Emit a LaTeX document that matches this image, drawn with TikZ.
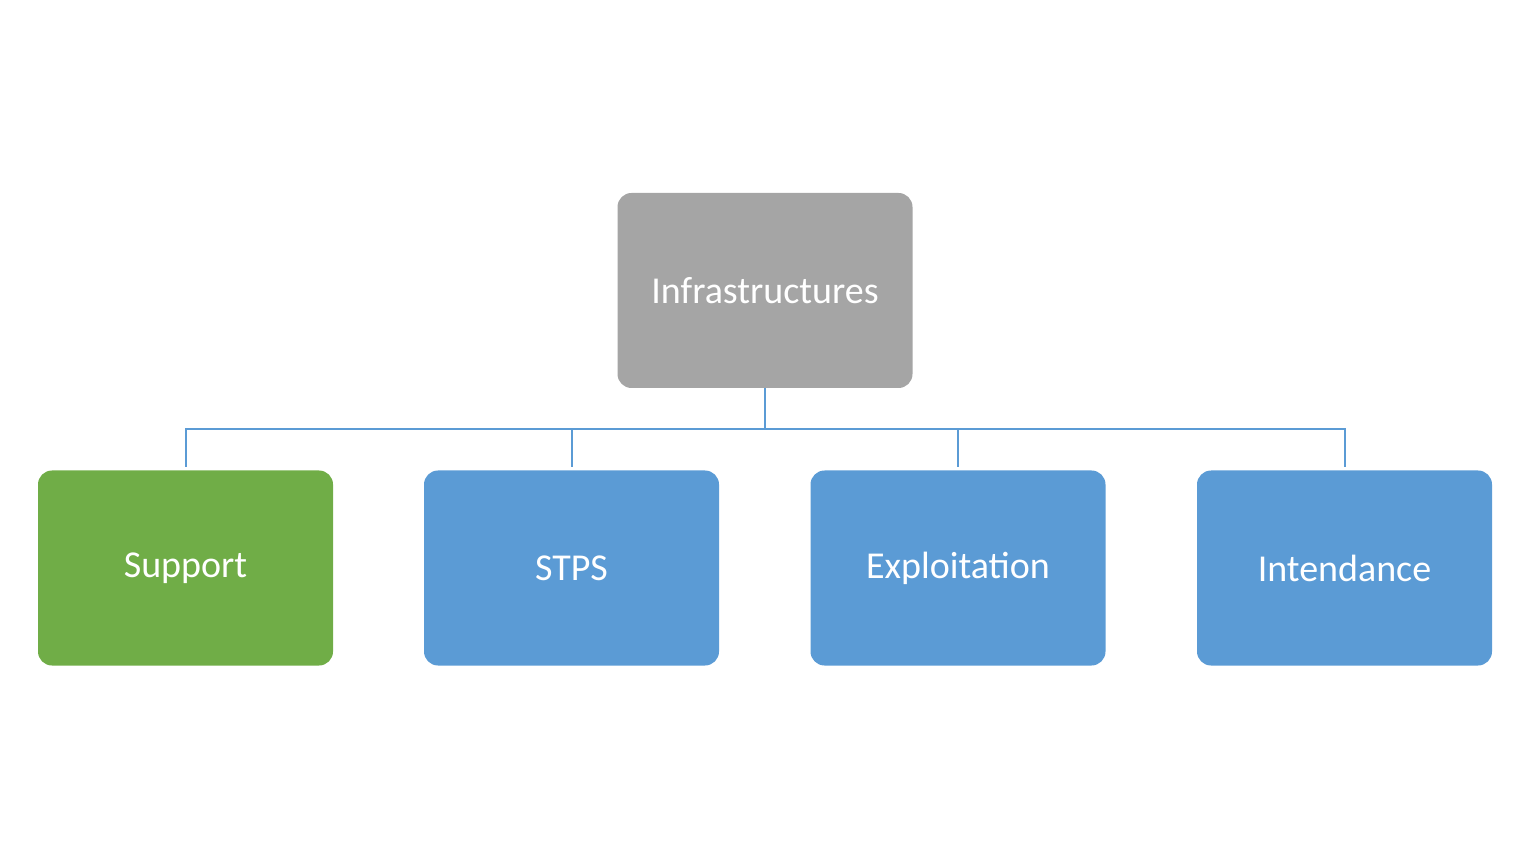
\documentclass[tikz,border=0pt]{standalone}
\usepackage{fontspec}
\setmainfont{Carlito}
\begin{document}
\begin{tikzpicture}[x=0.5pt,y=-0.5pt,
  box/.style={draw=none,rounded corners=7pt,minimum width=147.5pt,minimum height=97.5pt,text=white,font=\fontsize{19}{22}\selectfont,inner sep=0pt},
  link/.style={draw={rgb,255:red,91;green,155;blue,213},line width=1pt}]
\definecolor{gr}{HTML}{A5A5A5}\definecolor{gn}{HTML}{70AD47}\definecolor{bl}{HTML}{5B9BD5}
\useasboundingbox (0,0) rectangle (1530,860);
\node[box,fill=gr] (top) at (765,290.5) {Infrastructures};
\node[box,fill=gn] (c1) at (185.5,568) {Support};
\node[box,fill=bl] (c2) at (571.5,568) {STPS};
\node[box,fill=bl] (c3) at (958,568) {Exploitation};
\node[box,fill=bl] (c4) at (1344.5,568) {Intendance};
\coordinate (j) at (765,429);
\foreach \i in {1,...,4}{\coordinate (e\i) at ([yshift=1.5pt]c\i.north);}
\draw[link] (top.south) -- (j);
\foreach \i in {1,...,4}{\draw[link] (j) -| (e\i);}
\end{tikzpicture}
\end{document}
